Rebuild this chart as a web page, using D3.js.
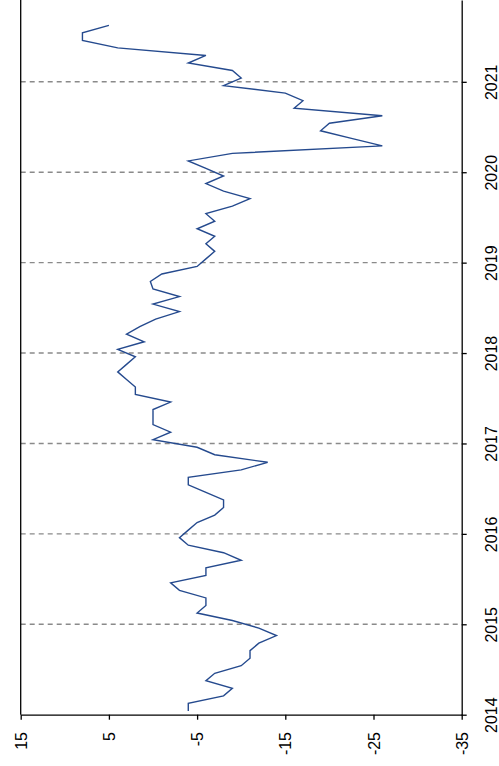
<!DOCTYPE html>
<html>
<head>
<meta charset="utf-8">
<script src="https://cdn.jsdelivr.net/npm/d3@7"></script>
<style>
  body { margin: 0; background: #fff; }
  svg { display: block; font-family: Arial, "Liberation Sans", sans-serif; }
</style>
</head>
<body>
<script>
// chart setup (the chart is drawn turned on its side: time runs bottom->top)
const w = 499;
const h = 766;

// monthly values, Jan 2014 onward
const values = [
  -4, -4, -8, -9, -6, -7, -10, -11, -11, -12, -14, -12,
  -9, -5, -6, -6, -3, -2, -6, -6, -10, -8, -4, -3,
  -4, -5, -7, -8, -8, -6, -4, -4, -10, -13, -7, -5,
  0, -2, 0, 0, 0, -2, 2, 2, 3, 4, 3, 2,
  4, 1, 3, 1.5, -0.3, -3, 0, -3, 0, 0.3, -1, -5,
  -6, -7, -6, -7, -5, -7, -6, -9, -11, -8, -6, -8,
  -6, -4, -9, -26, -22.5, -19, -20, -26, -16, -17, -15, -8,
  -10, -9, -4, -6, 4, 8, 8, 5
];
const startYear = 2014;
const valueTicks = [15, 5, -5, -15, -25, -35];
const yearTicks = [2014, 2015, 2016, 2017, 2018, 2019, 2020, 2021];

const dataset = values.map((v, i) => ({ t: startYear + (i + 0.5) / 12, v: v }));

const svg = d3.select("body")
  .append("svg")
  .attr("width", w)
  .attr("height", h);

// value scale runs left->right, time scale runs bottom->top
const xScale = d3.scaleLinear()
  .domain([15, -35])
  .range([20.7, 461.7]);

const yScale = d3.scaleLinear()
  .domain([2014, 2021.905])
  .range([714.7, 0]);

// dashed year gridlines
svg.append("g")
  .selectAll("line")
  .data(yearTicks.slice(1))
  .join("line")
  .attr("x1", xScale(15))
  .attr("x2", xScale(-35))
  .attr("y1", d => yScale(d))
  .attr("y2", d => yScale(d))
  .attr("stroke", "#8a8a8a")
  .attr("stroke-width", 1.4)
  .attr("stroke-dasharray", "5,4");

// left border
svg.append("line")
  .attr("x1", xScale(15))
  .attr("x2", xScale(15))
  .attr("y1", yScale(2014))
  .attr("y2", 0)
  .attr("stroke", "#000")
  .attr("stroke-width", 1.3);

// value axis (bottom) - plain hyphen minus like the original
const xAxis = d3.axisBottom(xScale)
  .tickValues(valueTicks)
  .tickFormat(d => String(d))
  .tickSize(5)
  .tickSizeOuter(0);

const gx = svg.append("g")
  .attr("transform", `translate(0, ${yScale(2014)})`)
  .call(xAxis);

gx.select(".domain").attr("stroke-width", 1.3);
gx.selectAll(".tick line").attr("stroke-width", 1.3);
gx.selectAll(".tick text")
  .attr("transform", "rotate(-90)")
  .attr("x", -17.3)
  .attr("y", 0)
  .attr("dy", "0.35em")
  .attr("text-anchor", "end")
  .attr("fill", "#000")
  .style("font-size", "16px");

// time axis (right)
const yAxis = d3.axisRight(yScale)
  .tickValues(yearTicks)
  .tickFormat(d => String(d))
  .tickSize(5)
  .tickSizeOuter(0);

const gy = svg.append("g")
  .attr("transform", `translate(${xScale(-35)}, 0)`)
  .call(yAxis);

gy.select(".domain").attr("stroke-width", 1.3);
gy.selectAll(".tick line").attr("stroke-width", 1.3);
gy.selectAll(".tick text")
  .attr("transform", "rotate(-90)")
  .attr("x", 0)
  .attr("y", 35.3)
  .attr("dy", 0)
  .attr("text-anchor", "middle")
  .attr("fill", "#000")
  .style("font-size", "16px");

// the series
const line = d3.line()
  .x(d => xScale(d.v))
  .y(d => yScale(d.t));

svg.append("path")
  .datum(dataset)
  .attr("fill", "none")
  .attr("stroke", "#254a8e")
  .attr("stroke-width", 1.4)
  .attr("stroke-linejoin", "miter")
  .attr("d", line);
</script>
</body>
</html>
